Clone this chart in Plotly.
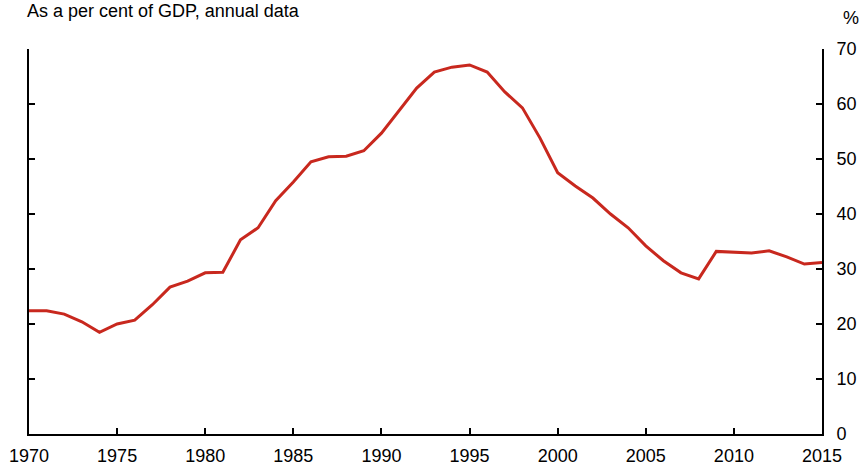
import plotly.graph_objects as go

years = list(range(1970, 2016))
values = [22.4, 22.4, 21.8, 20.4, 18.5, 20.0, 20.7, 23.5, 26.7, 27.8,
          29.3, 29.4, 35.3, 37.5, 42.4, 45.8, 49.5, 50.4, 50.5, 51.5,
          54.7, 58.9, 62.9, 65.8, 66.7, 67.1, 65.8, 62.2, 59.3, 53.8,
          47.5, 45.1, 42.9, 40.0, 37.5, 34.2, 31.5, 29.3, 28.2, 33.2,
          33.1, 32.9, 33.3, 32.2, 30.9, 31.2]
x_ticks = list(range(1970, 2016, 5))
y_ticks = list(range(0, 71, 10))

fam = "Liberation Sans, Arial, sans-serif"
font = dict(family=fam, size=18, color="black")

fig = go.Figure()
fig.add_trace(go.Scatter(x=years, y=values, mode="lines",
                         line=dict(color="#C8281E", width=3), showlegend=False))
fig.add_trace(go.Scatter(x=years, y=values, mode="lines", yaxis="y2",
                         line=dict(color="rgba(0,0,0,0)", width=0),
                         showlegend=False, hoverinfo="skip"))

fig.update_layout(
    width=864, height=466,
    margin=dict(l=29, r=42, t=49, b=32, autoexpand=False),
    paper_bgcolor="white", plot_bgcolor="white",
    font=font,
    xaxis=dict(range=[1970, 2015], tickvals=x_ticks, ticktext=[str(t) for t in x_ticks],
               ticks="inside", ticklen=6, tickwidth=1.5, tickcolor="black",
               showline=True, linecolor="black", linewidth=2,
               showgrid=False, zeroline=False, tickfont=font,
               ticklabelstandoff=4),
    yaxis=dict(range=[0, 70], tickvals=y_ticks, side="right",
               ticks="inside", ticklen=6, tickwidth=1.5, tickcolor="black",
               showline=True, linecolor="black", linewidth=2,
               showgrid=False, zeroline=False, tickfont=font,
               ticklabelstandoff=9),
    yaxis2=dict(range=[0, 70], tickvals=y_ticks, side="left", overlaying="y",
                ticks="inside", ticklen=6, tickwidth=1.5, tickcolor="black",
                showline=True, linecolor="black", linewidth=2,
                showgrid=False, zeroline=False, showticklabels=False),
    annotations=[
        dict(text="As a per cent of GDP, annual data", xref="paper", yref="paper",
             x=-0.005, y=1.13, xanchor="left", yanchor="top",
             showarrow=False, font=font),
        dict(text="%", xref="paper", yref="paper",
             x=1.0366, y=1.0805, xanchor="center", yanchor="middle",
             showarrow=False, font=font),
    ],
)

fig.write_html("out.html", config={"displayModeBar": False},
               post_script="document.body.style.margin='0';")
